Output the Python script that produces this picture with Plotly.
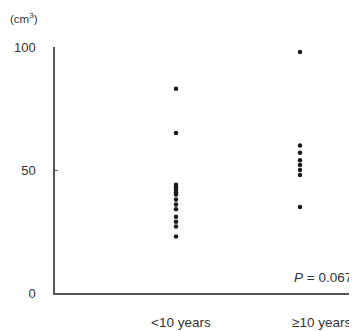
import plotly.graph_objects as go

groups = ["<10 years", "≥10 years"]
lt10_values = [83, 65, 44, 43, 42, 41, 40, 38, 36, 34, 31, 29, 27, 23]
ge10_values = [98, 60, 57, 54, 52, 50, 48, 35]
p_text = "<i>P</i> = 0.067"

fig = go.Figure()
for i, vals in enumerate([lt10_values, ge10_values]):
    fig.add_trace(go.Scatter(
        x=[i] * len(vals), y=vals, mode="markers",
        marker=dict(color="#1a1a1a", size=4.5),
        showlegend=False, hoverinfo="y"))

label_x = [0.04, 1.17]
for lx, g in zip(label_x, groups):
    fig.add_annotation(x=lx, y=0, xref="x", yref="paper", yanchor="middle", yshift=-29,
                       text=g, showarrow=False,
                       font=dict(size=13.5, color="#333"))

fig.add_annotation(x=1, y=0, xref="paper", yref="paper", xanchor="right", yanchor="bottom",
                   xshift=-3, yshift=6, text=p_text, showarrow=False,
                   font=dict(size=13.5, color="#333"))
fig.add_annotation(x=0, y=1, xref="paper", yref="paper", xanchor="left", yanchor="middle",
                   xshift=-47, yshift=29, text="(cm<sup>3</sup>)", showarrow=False,
                   font=dict(size=11.5, color="#333"))

fig.update_layout(
    width=349, height=323,
    margin=dict(l=47, r=0, t=39, b=38),
    paper_bgcolor="white", plot_bgcolor="white",
    font=dict(family="Liberation Sans, Arial, sans-serif", size=13, color="#333"),
    xaxis=dict(range=[-0.976, 1.46], showticklabels=False, showgrid=False, zeroline=False,
               showline=True, linecolor="#555", linewidth=1.5, ticks=""),
    yaxis=dict(range=[0, 100], tickvals=[0, 50, 100], showgrid=False, zeroline=False,
               showline=True, linecolor="#555", linewidth=1.5, ticks="inside", ticklen=3,
               tickcolor="#555", ticklabelstandoff=15),
)

fig.write_html("out.html")
